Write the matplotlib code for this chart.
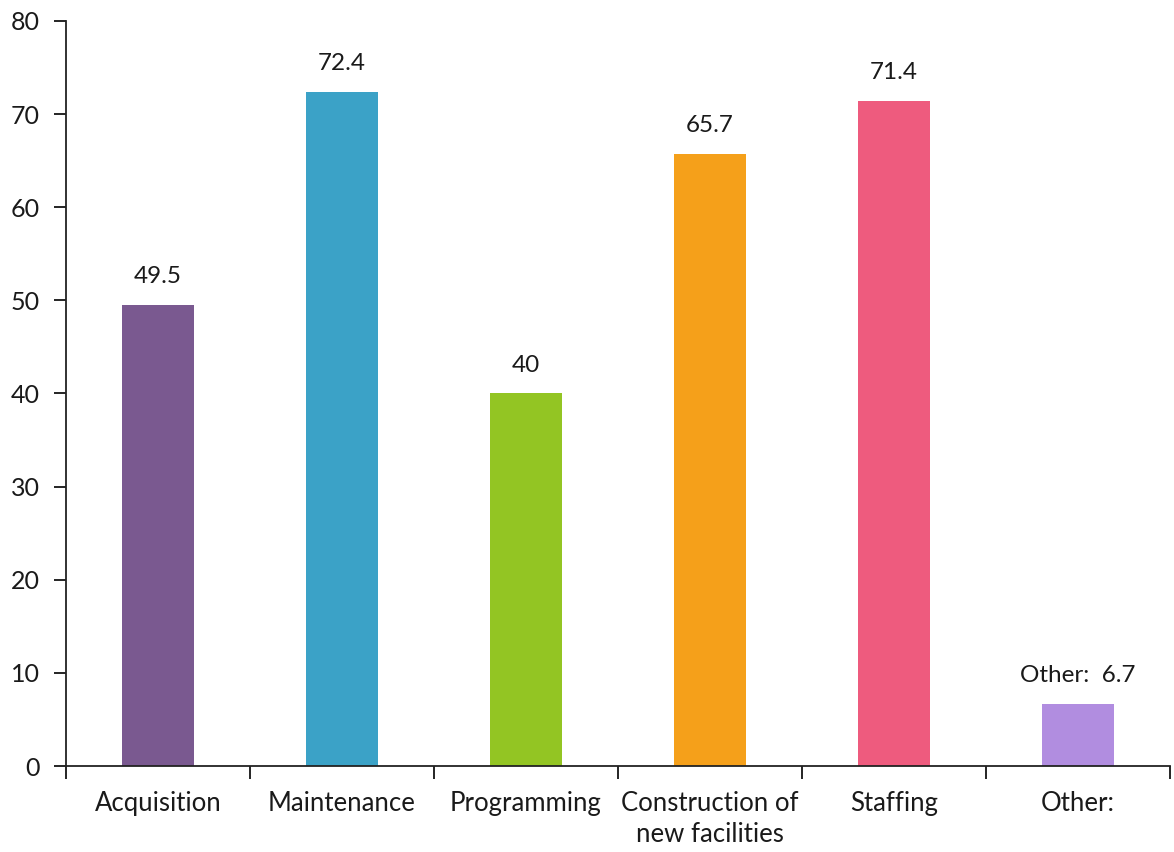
import matplotlib
matplotlib.use("Agg")
import matplotlib.pyplot as plt
import numpy as np

categories = ["Acquisition", "Maintenance", "Programming",
              "Construction of\nnew facilities", "Staffing", "Other:"]
values = [49.5, 72.4, 40, 65.7, 71.4, 6.7]
value_labels = ["49.5", "72.4", "40", "65.7", "71.4", "Other:  6.7"]
colors = ["#7A5990", "#3BA2C7", "#93C523", "#F5A01A", "#EE5B7E", "#B18DE0"]
yticks = [0, 10, 20, 30, 40, 50, 60, 70, 80]

plt.rcParams['font.family'] = ['Lato', 'DejaVu Sans']

fig = plt.figure(figsize=(11.74, 8.52), dpi=100)
ax = fig.add_axes([0.0562, 0.1009, 0.9404, 0.8745])

x = np.arange(len(categories))
ax.bar(x, values, width=0.39, color=colors, zorder=2)

for xi, v, lab in zip(x, values, value_labels):
    ax.text(xi, v + 1.9, lab, ha='center', va='bottom', fontsize=17.5, color='#1a1a1a')

ax.set_xlim(-0.5, len(categories) - 0.5)
ax.set_ylim(0, 80)
ax.set_yticks(yticks)
ax.set_yticklabels([str(t) for t in yticks], fontsize=18)

# category labels centred, tick marks at category boundaries
ax.set_xticks(np.arange(-0.5, len(categories), 1.0))
ax.set_xticklabels([])
ax.set_xticks(x, minor=True)
ax.set_xticklabels(categories, minor=True, fontsize=18.5, color='#1a1a1a',
                   linespacing=1.3)
ax.tick_params(axis='x', which='minor', length=0, pad=18)
ax.tick_params(axis='x', which='major', length=9, width=1.2, direction='out')
ax.tick_params(axis='y', length=9, width=1.2, direction='out', pad=10, labelcolor='#1a1a1a')

for s in ['top', 'right']:
    ax.spines[s].set_visible(False)
for s in ['left', 'bottom']:
    ax.spines[s].set_linewidth(1.3)
    ax.spines[s].set_color('#222222')

fig.savefig("out.png", dpi=100)
